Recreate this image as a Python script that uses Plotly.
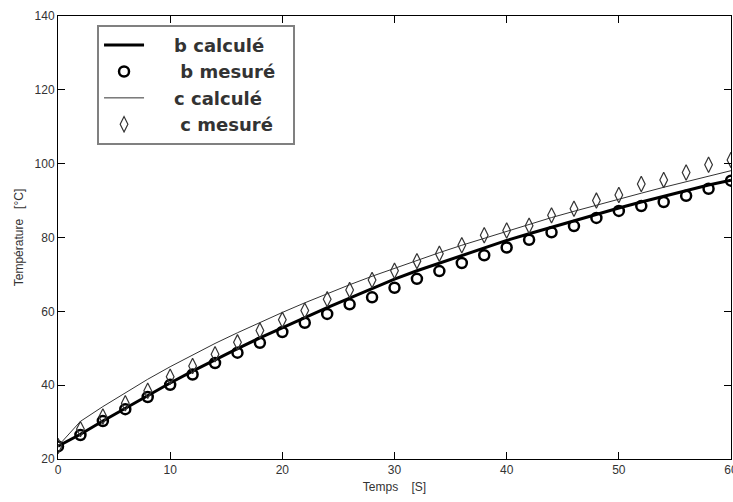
import plotly.graph_objects as go

t = [0, 2, 4, 6, 8, 10, 12, 14, 16, 18, 20, 22, 24, 26, 28, 30,
     32, 34, 36, 38, 40, 42, 44, 46, 48, 50, 52, 54, 56, 58, 60]

b_calc = [23.5, 26.7, 30.3, 33.8, 37.2, 40.6, 43.8, 46.9, 49.9, 52.8, 55.6,
          58.3, 61.0, 63.6, 66.2, 68.7, 71.0, 73.1, 75.2, 77.2, 79.2, 81.0,
          82.8, 84.6, 86.3, 88.0, 89.6, 91.2, 92.8, 94.2, 95.5]
b_mes = [23.4, 26.5, 30.3, 33.5, 36.8, 40.1, 42.9, 46.0, 48.8, 51.5, 54.4,
         56.9, 59.3, 61.9, 63.8, 66.4, 68.8, 70.9, 73.1, 75.2, 77.3, 79.4,
         81.4, 83.1, 85.3, 87.2, 88.5, 89.6, 91.3, 93.2, 95.4]
c_calc = [23.5, 30.2, 34.2, 38.0, 41.6, 45.0, 48.2, 51.3, 54.2, 57.0, 59.7,
          62.3, 64.8, 67.2, 69.5, 71.7, 73.8, 75.9, 77.9, 79.8, 81.7, 83.6,
          85.4, 87.1, 88.8, 90.4, 92.0, 93.6, 95.1, 96.6, 98.1]
c_mes = [23.5, 28.1, 31.5, 35.1, 38.5, 42.3, 45.2, 48.4, 51.6, 54.8, 57.7,
         60.2, 63.3, 65.8, 68.5, 71.0, 73.6, 75.6, 77.9, 80.6, 81.9, 83.2,
         86.0, 87.8, 90.0, 91.5, 94.5, 95.6, 97.6, 99.7, 101.0]

x_ticks = [0, 10, 20, 30, 40, 50, 60]
y_ticks = [20, 40, 60, 80, 100, 120, 140]

names = ["b calculé", "b mesuré", "c calculé", "c mesuré"]
pre = "\u00a0" * 4
post = "\u00a0" * 2

fig = go.Figure()
fig.add_trace(go.Scatter(x=t, y=b_calc, mode="lines", name=pre + names[0] + post,
                         legendgroup="g1",
                         line=dict(color="black", width=3)))
fig.add_trace(go.Scatter(x=t, y=b_mes, mode="markers", name=pre + " " + names[1] + post,
                         legendgroup="g2",
                         marker=dict(symbol="circle-open", size=10,
                                     color="black", line=dict(width=2.5, color="black"))))
fig.add_trace(go.Scatter(x=t, y=c_calc, mode="lines", name=pre + names[2] + post,
                         legendgroup="g3",
                         line=dict(color="#333333", width=1)))
fig.add_trace(go.Scatter(x=t, y=c_mes, mode="markers", name=pre + " " + names[3] + post,
                         legendgroup="g4",
                         marker=dict(symbol="diamond-tall-open", size=11,
                                     color="#333333", line=dict(width=1.2, color="#333333"))))

tickfont = dict(family="Liberation Sans Narrow, Arial Narrow, sans-serif", size=12, color="#333333")

fig.update_layout(
    width=733, height=502,
    margin=dict(l=58, r=2, t=16, b=43),
    paper_bgcolor="white", plot_bgcolor="white",
    showlegend=True,
    legend=dict(
        x=0.058, y=0.98, xanchor="left", yanchor="top",
        bgcolor="white", bordercolor="#808080", borderwidth=2,
        font=dict(family="DejaVu Sans, Liberation Sans, Arial, sans-serif", size=18,
                  color="#333333", weight="bold"),
        itemwidth=40, tracegroupgap=0,
    ),
    xaxis=dict(
        range=[0, 60], tickvals=x_ticks, ticks="inside", ticklen=7,
        tickcolor="black", showline=True, linecolor="black", linewidth=1,
        mirror="ticks", showgrid=False, zeroline=False, tickfont=tickfont,
        automargin=False, ticklabeloverflow="allow",
        title=dict(text="Temps    [S]", font=tickfont, standoff=6),
    ),
    yaxis=dict(
        range=[20, 140], tickvals=y_ticks, ticks="inside", ticklen=7,
        tickcolor="black", showline=True, linecolor="black", linewidth=1,
        mirror="ticks", showgrid=False, zeroline=False, tickfont=tickfont,
        automargin=False, ticklabeloverflow="allow",
        title=dict(text="Température   [°C]", font=tickfont, standoff=8),
    ),
)

# remove the browser's default 8px body margin so the 733x502 figure fills the window
fig.write_html("out.html", config={"displayModeBar": False},
               post_script="document.body.style.margin='0';")
